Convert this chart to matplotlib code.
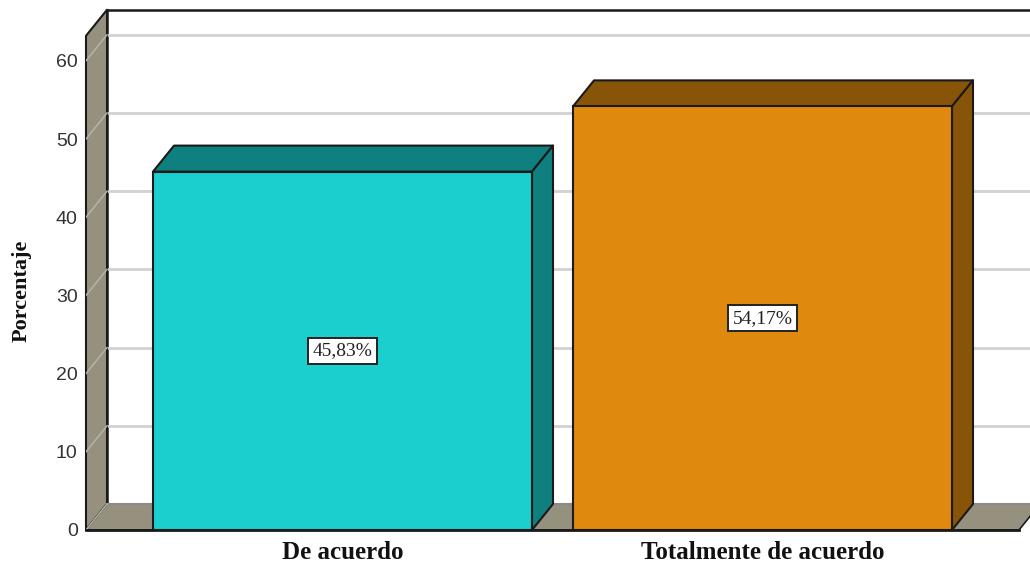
import matplotlib
matplotlib.use("Agg")
import matplotlib.pyplot as plt
from matplotlib.patches import Polygon

categories = ["De acuerdo", "Totalmente de acuerdo"]
values = [45.83, 54.17]
labels = ["45,83%", "54,17%"]
yticks = [0, 10, 20, 30, 40, 50, 60]

face_colors = ["#1CCFCF", "#E0890F"]
dark_colors = ["#107F7F", "#885508"]
wall = "#96917F"
line = "#1a1a1a"
grid = "#D2D2D2"

W, H = 1030, 564
fig = plt.figure(figsize=(W/100, H/100), dpi=100)
# axes box runs from the front left corner of the floor to the edge of the picture
ax = fig.add_axes([86/W, 1-530/H, (W-86)/W, 520/H])

px_x = 420.0     # pixels for one category
px_y = 7.82      # pixels for one percent
ax.set_xlim((86-342.5)/px_x, (W-342.5)/px_x)
ax.set_ylim(0, 520/px_y)
x0, x1 = ax.get_xlim()

dx = 21/px_x     # 3d depth
dy = 26/px_y
top = 63.2
bw = 379/px_x
floor_end = x1 - 11/px_x
right = floor_end + dx


def poly(pts, fc, z, lw=1.5):
    ax.add_patch(Polygon(pts, closed=True, fc=fc, ec=line, lw=lw, zorder=z,
                         clip_on=False, joinstyle="round"))


# back lines
ax.plot([x0+dx, x0+dx], [dy, top+dy], color=line, lw=1.8, zorder=1, clip_on=False)
ax.plot([x0+dx, right], [top+dy, top+dy], color=line, lw=1.8, zorder=1, clip_on=False)

# walls
poly([(x0, 0), (x0+dx, dy), (x0+dx, top+dy), (x0, top)], wall, 2)
poly([(x0, 0), (x0+dx, dy), (right, dy), (floor_end, 0)], wall, 2, lw=1.2)
ax.plot([x0+dx, right], [dy, dy], color="#8a8a8a", lw=1.5, zorder=2.5)
ax.plot([x0, floor_end], [0, 0], color=line, lw=2, zorder=6, clip_on=False)

# grid on the back and on the side wall
for t in yticks:
    ax.plot([x0, x0+dx], [t, t+dy], color="#B4B4AE", lw=1.1, zorder=3)
    if t > 0:
        ax.plot([x0+dx, right], [t+dy, t+dy], color=grid, lw=2, zorder=1.5)

# bars
bars = ax.bar(range(len(values)), values, width=bw, color=face_colors,
              edgecolor=line, linewidth=1.5, zorder=5)
for b, v, dc, lab in zip(bars, values, dark_colors, labels):
    l, r = b.get_x(), b.get_x()+b.get_width()
    poly([(l, v), (l+dx, v+dy), (r+dx, v+dy), (r, v)], dc, 4.5)
    poly([(r, 0), (r+dx, dy), (r+dx, v+dy), (r, v)], dc, 4.5)
    ax.text(b.get_x()+b.get_width()/2, v/2, lab, ha="center", va="center", zorder=7,
            family="Liberation Serif", fontsize=14, color="#222222",
            bbox=dict(boxstyle="square,pad=0.24", fc="white", ec="#222222", lw=1.4))

for s in ax.spines.values():
    s.set_visible(False)
ax.patch.set_visible(False)
ax.set_yticks(yticks)
ax.set_yticklabels([str(t) for t in yticks], family="Liberation Sans",
                   fontsize=14, color="#333333")
ax.set_xticks(range(len(categories)))
ax.set_xticklabels(categories, family="Liberation Serif", fontweight="bold",
                   fontsize=18, color="#111111")
ax.tick_params(axis="y", length=0, pad=6)
ax.tick_params(axis="x", length=0, pad=8)
fig.text(22/W, 1-291/H, "Porcentaje", rotation=90, ha="center", va="center",
         family="Liberation Serif", fontweight="bold", fontsize=16, color="#111111")

fig.savefig("out.png", dpi=100, facecolor="white")
